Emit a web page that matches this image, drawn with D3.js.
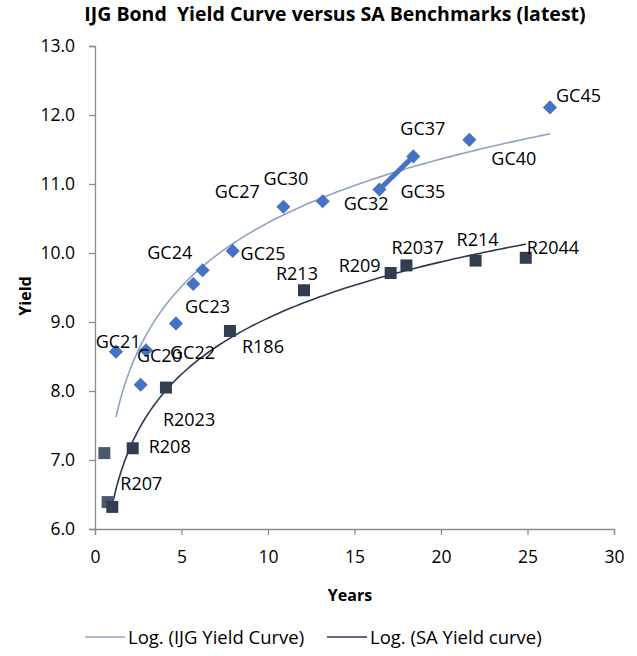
<!DOCTYPE html>
<html>
<head>
<meta charset="utf-8">
<script src="https://cdn.jsdelivr.net/npm/d3@7"></script>
<style>
  body { margin: 0; background: #fff; }
  svg text { font-family: "Open Sans", "Noto Sans", sans-serif; fill: #000; }
</style>
</head>
<body>
<div id="chart"></div>
<script>
// IJG bonds (years to maturity, yield)
var ijgNames = ["GC20", "GC21", "GC22", "GC23", "GC24", "GC25", "GC27", "GC30", "GC32", "GC35", "GC37", "GC40", "GC45"];
var ijgYears = [1.21, 2.64, 2.95, 4.68, 5.68, 6.22, 7.96, 10.89, 13.16, 16.44, 18.40, 21.64, 26.30];
var ijgYields = [8.57, 8.09, 8.59, 8.98, 9.55, 9.75, 10.03, 10.67, 10.75, 10.92, 11.40, 11.64, 12.11];

// SA benchmarks
var saNames = ["R207", "R208", "R2023", "R186", "R213", "R209", "R2037", "R214", "R2044"];
var saYears = [1.00, 2.18, 4.10, 7.80, 12.08, 17.09, 18.00, 22.00, 24.90];
var saYields = [6.32, 7.17, 8.05, 8.87, 9.46, 9.71, 9.82, 9.89, 9.93];

// unlabelled short points
var otherYears = [0.54, 0.73];
var otherYields = [7.10, 6.39];

// thick segment drawn between these two bonds
var connector = ["GC35", "GC37"];

var xTicks = [0, 5, 10, 15, 20, 25, 30];
var yTicks = [6, 7, 8, 9, 10, 11, 12, 13];

// label nudges in px (layout only)
var ijgLabelOffsets = [[21, 10], [-45, -37], [24, 9], [9, -10], [-46, -25], [38, -10], [-18, -53],
    [-20, -22], [21, 9], [21, 8], [-13, -21], [22, 25], [6, -5]];
var saLabelOffsets = [[8, -17], [16, 5], [-3, 38], [12, 22], [-28, -10], [-52, -1], [-15, -11], [-19, -15], [1, -4]];

var width = 637, height = 656;
var margin = { top: 46, right: 23, bottom: 127, left: 95 };

var blue = "#4472c4",
    navy = "#323e50",
    slate = "#4b596e",
    lightTrend = "#8fa3c1",
    darkTrend = "#2b3850",
    axisGrey = "#8c8c8c";

var svg = d3.select("#chart").append("svg")
    .attr("width", width)
    .attr("height", height);

var x = d3.scaleLinear()
    .domain([0, 30])
    .range([margin.left, width - margin.right]);

var y = d3.scaleLinear()
    .domain([6, 13])
    .range([height - margin.bottom, margin.top]);

//Title
svg.append("text")
    .attr("x", 335)
    .attr("y", 21)
    .attr("text-anchor", "middle")
    .attr("font-size", "19.5px")
    .attr("font-weight", "bold")
    .attr("xml:space", "preserve")
    .text("IJG Bond  Yield Curve versus SA Benchmarks (latest)");

//Axes
var xAxis = svg.append("g")
    .attr("transform", `translate(0, ${y(6)})`)
    .call(d3.axisBottom(x).tickValues(xTicks).tickSize(6).tickPadding(16));

var yAxis = svg.append("g")
    .attr("transform", `translate(${x(0)}, 0)`)
    .call(d3.axisLeft(y).tickValues(yTicks).tickFormat(d3.format(".1f")).tickSize(6).tickPadding(14));

[xAxis, yAxis].forEach(function (g) {
    g.select(".domain").attr("stroke", axisGrey).attr("stroke-width", 1.3);
    g.selectAll(".tick line").attr("stroke", axisGrey).attr("stroke-width", 1.3);
    g.selectAll(".tick text")
        .attr("font-size", "17.5px")
        .attr("font-family", "'Open Sans', sans-serif")
        .attr("fill", "#000");
});

svg.append("text")
    .attr("x", 350)
    .attr("y", 601)
    .attr("text-anchor", "middle")
    .attr("font-size", "16px")
    .attr("font-weight", "bold")
    .text("Years");

svg.append("text")
    .attr("transform", "translate(31, 296) rotate(-90)")
    .attr("text-anchor", "middle")
    .attr("font-size", "16px")
    .attr("font-weight", "bold")
    .text("Yield");

//Logarithmic trend line (least squares on ln x), like Excel's "Log." trendline
function logFit(xs, ys) {
    var lx = xs.map(Math.log);
    var mx = d3.mean(lx), my = d3.mean(ys);
    var sxy = d3.sum(lx, function (v, i) { return (v - mx) * (ys[i] - my); });
    var sxx = d3.sum(lx, function (v) { return (v - mx) * (v - mx); });
    var a = sxy / sxx;
    var b = my - a * mx;
    var lo = d3.min(xs), hi = d3.max(xs);
    return d3.range(0, 101).map(function (i) {
        var t = lo + (hi - lo) * i / 100;
        return [t, a * Math.log(t) + b];
    });
}

var line = d3.line()
    .x(function (d) { return x(d[0]); })
    .y(function (d) { return y(d[1]); });

svg.append("path")
    .datum(logFit(ijgYears, ijgYields))
    .attr("d", line)
    .attr("fill", "none")
    .attr("stroke", lightTrend)
    .attr("stroke-width", 1.6);

svg.append("path")
    .datum(logFit(saYears, saYields))
    .attr("d", line)
    .attr("fill", "none")
    .attr("stroke", darkTrend)
    .attr("stroke-width", 1.6);

//Thick connector
var c0 = ijgNames.indexOf(connector[0]), c1 = ijgNames.indexOf(connector[1]);
svg.append("line")
    .attr("x1", x(ijgYears[c0]))
    .attr("y1", y(ijgYields[c0]))
    .attr("x2", x(ijgYears[c1]))
    .attr("y2", y(ijgYields[c1]))
    .attr("stroke", blue)
    .attr("stroke-width", 5);

//Markers
var diamond = d3.symbol().type(d3.symbolSquare).size(100);

svg.append("g").selectAll("path")
    .data(ijgNames)
    .enter().append("path")
    .attr("d", diamond)
    .attr("fill", blue)
    .attr("transform", function (d, i) {
        return `translate(${x(ijgYears[i])}, ${y(ijgYields[i])}) rotate(45)`;
    });

var square = d3.symbol().type(d3.symbolSquare).size(144);

svg.append("g").selectAll("path")
    .data(otherYears)
    .enter().append("path")
    .attr("d", square)
    .attr("fill", slate)
    .attr("transform", function (d, i) {
        return `translate(${x(d)}, ${y(otherYields[i])})`;
    });

svg.append("g").selectAll("path")
    .data(saNames)
    .enter().append("path")
    .attr("d", square)
    .attr("fill", navy)
    .attr("transform", function (d, i) {
        return `translate(${x(saYears[i])}, ${y(saYields[i])})`;
    });

//Data labels
svg.append("g").selectAll("text")
    .data(ijgNames)
    .enter().append("text")
    .attr("x", function (d, i) { return x(ijgYears[i]) + ijgLabelOffsets[i][0]; })
    .attr("y", function (d, i) { return y(ijgYields[i]) + ijgLabelOffsets[i][1]; })
    .attr("font-size", "18px")
    .text(function (d) { return d; });

svg.append("g").selectAll("text")
    .data(saNames)
    .enter().append("text")
    .attr("x", function (d, i) { return x(saYears[i]) + saLabelOffsets[i][0]; })
    .attr("y", function (d, i) { return y(saYields[i]) + saLabelOffsets[i][1]; })
    .attr("font-size", "18px")
    .text(function (d) { return d; });

//Legend
var legendItems = [
    { label: "Log. (IJG Yield Curve)", color: lightTrend, x: 85 },
    { label: "Log. (SA Yield curve)", color: darkTrend, x: 327 }
];

var legend = svg.append("g").selectAll("g")
    .data(legendItems)
    .enter().append("g")
    .attr("transform", function (d) { return `translate(${d.x}, 637)`; });

legend.append("line")
    .attr("x1", 0)
    .attr("x2", 40)
    .attr("stroke", function (d) { return d.color; })
    .attr("stroke-width", 1.6);

legend.append("text")
    .attr("x", 43)
    .attr("y", 7)
    .attr("font-size", "18.5px")
    .text(function (d) { return d.label; });
</script>
</body>
</html>
